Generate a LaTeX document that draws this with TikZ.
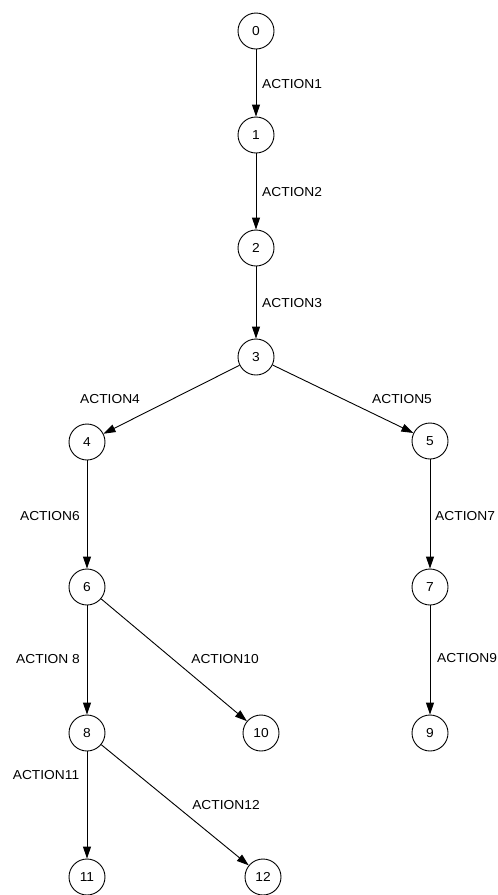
\documentclass[tikz,border=0pt]{standalone}
\usepackage{fontspec}
\setmainfont{Liberation Sans}
\newfontfamily\labfont[FakeStretch=1.06]{Liberation Sans}
\usetikzlibrary{arrows.meta}
\begin{document}
\begin{tikzpicture}[x=1pt,y=-1pt,
  state/.style={circle,draw,line width=0.9pt,minimum size=36pt,inner sep=0pt,font=\labfont\fontsize{13}{15}\selectfont},
  edge/.style={line width=0.9pt,-{Triangle[length=12pt,width=8pt]}},
  lbl/.style={font=\labfont\fontsize{13}{15}\selectfont,inner sep=0pt}]
\useasboundingbox (0,0) rectangle (498,895);
\node[state] (n0) at (256,31) {0};
\node[state] (n1) at (256,135) {1};
\node[state] (n2) at (256,248) {2};
\node[state] (n3) at (256,357) {3};
\node[state] (n4) at (87,442) {4};
\node[state] (n5) at (430,441) {5};
\node[state] (n6) at (87,587) {6};
\node[state] (n7) at (430,587) {7};
\node[state] (n8) at (87,733) {8};
\node[state] (n9) at (430,733) {9};
\node[state] (n10) at (261,733) {10};
\node[state] (n11) at (87,877) {11};
\node[state] (n12) at (263,877) {12};
\draw[edge] (n0) -- (n1);
\draw[edge] (n1) -- (n2);
\draw[edge] (n2) -- (n3);
\draw[edge] (n3) -- (n4);
\draw[edge] (n3) -- (n5);
\draw[edge] (n4) -- (n6);
\draw[edge] (n5) -- (n7);
\draw[edge] (n6) -- (n8);
\draw[edge] (n6) -- (n10);
\draw[edge] (n7) -- (n9);
\draw[edge] (n8) -- (n11);
\draw[edge] (n8) -- (n12);
\node[lbl,anchor=west] (l1) at (262,84) {ACTION1};
\node[lbl,anchor=west] (l2) at (262,192) {ACTION2};
\node[lbl,anchor=west] (l3) at (262,303) {ACTION3};
\node[lbl] (l4) at (110,399) {ACTION4};
\node[lbl] (l5) at (402,399) {ACTION5};
\node[lbl,anchor=east] (l6) at (80,516) {ACTION6};
\node[lbl,anchor=west] (l7) at (435,516) {ACTION7};
\node[lbl,anchor=east] (l8) at (80,659) {ACTION 8};
\node[lbl] (l10) at (225,659) {ACTION10};
\node[lbl,anchor=west] (l9) at (437,658) {ACTION9};
\node[lbl] (l11) at (46,775) {ACTION11};
\node[lbl] (l12) at (226,805) {ACTION12};
\end{tikzpicture}
\end{document}
